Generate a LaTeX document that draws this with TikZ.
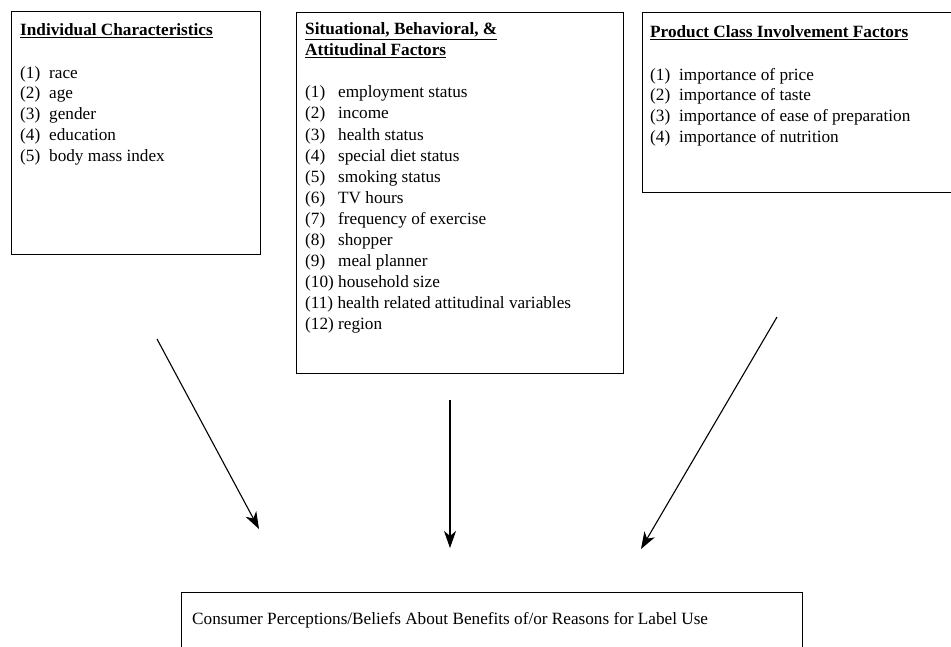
\documentclass[tikz,border=0pt]{standalone}
\usepackage{fontspec}
\setmainfont{Liberation Serif}
\usetikzlibrary{arrows.meta}
\newcommand{\numit}[2]{\makebox[#1pt][l]{#2}}
\begin{document}
\begin{tikzpicture}[x=1pt,y=-1pt,
  box/.style={draw,line width=1.4pt,inner sep=0pt,anchor=north west},
  txt/.style={anchor=north west,inner sep=0pt,align=left,font=\fontsize{17.2}{20.8}\selectfont},
  arr/.style={line width=1.1pt,-{Stealth[length=17pt,width=12pt,inset=5pt]}}]
\useasboundingbox (0,0) rectangle (951,646);
% boxes
\node[box,minimum width=249pt,minimum height=243pt] (b1) at (11,11) {};
\node[box,minimum width=327pt,minimum height=361pt] (b2) at (296,12) {};
\node[box,minimum width=320pt,minimum height=180pt] (b3) at (642,12) {};
\node[box,minimum width=621pt,minimum height=80pt] (b4) at (181,592) {};
% texts
\node[txt] (t1) at (20,23.5) {\textbf{\underline{Individual Characteristics}}\\[21.6pt]
\numit{29}{(1)}race\\ \numit{29}{(2)}age\\ \numit{29}{(3)}gender\\ \numit{29}{(4)}education\\ \numit{29}{(5)}body mass index};
\node[txt,font=\fontsize{17.2}{21.1}\selectfont] (t2) at (305,22.5) {\textbf{\underline{Situational, Behavioral, \&}}\\ \textbf{\underline{Attitudinal Factors}}\\[21pt]
\numit{33}{(1)}employment status\\ \numit{33}{(2)}income\\ \numit{33}{(3)}health status\\ \numit{33}{(4)}special diet status\\
\numit{33}{(5)}smoking status\\ \numit{33}{(6)}TV hours\\ \numit{33}{(7)}frequency of exercise\\ \numit{33}{(8)}shopper\\
\numit{33}{(9)}meal planner\\ (10) household size\\ (11) health related attitudinal variables\\ (12) region};
\node[txt] (t3) at (650,25.5) {\textbf{\underline{Product Class Involvement Factors}}\\[21.6pt]
\numit{29}{(1)}importance of price\\ \numit{29}{(2)}importance of taste\\ \numit{29}{(3)}importance of ease of preparation\\ \numit{29}{(4)}importance of nutrition};
\node[anchor=base west,inner sep=0pt,font=\fontsize{17.2}{20}\selectfont] (t4) at (192,624) {Consumer Perceptions/Beliefs About Benefits of/or Reasons for Label Use};
% arrows
\coordinate (a1s) at (157,339); \coordinate (a1e) at (259,529);
\coordinate (a2s) at (450,400); \coordinate (a2e) at (450,548);
\coordinate (a3s) at (777,317); \coordinate (a3e) at (641,549);
\draw[arr] (a1s) -- (a1e);
\draw[arr] (a2s) -- (a2e);
\draw[arr] (a3s) -- (a3e);
\end{tikzpicture}
\end{document}
